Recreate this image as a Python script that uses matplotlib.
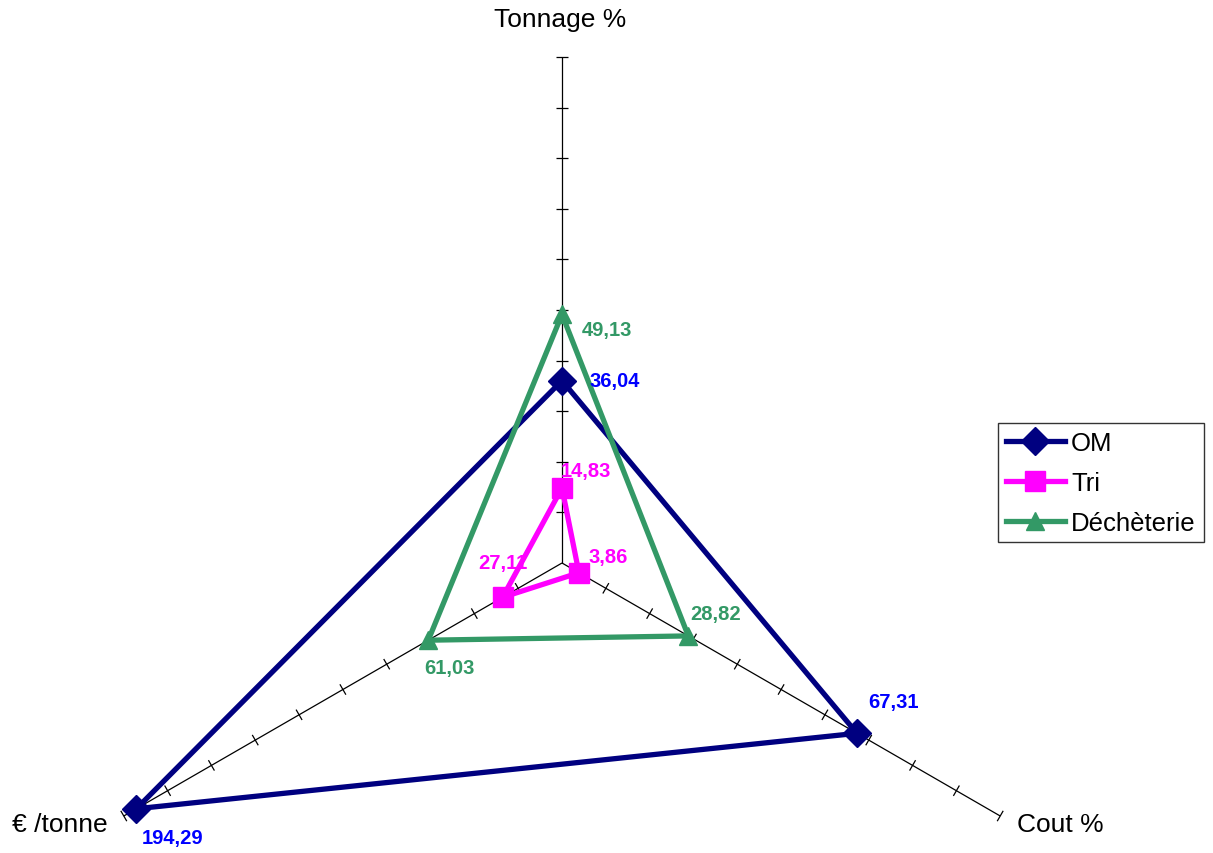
import matplotlib
matplotlib.use('Agg')
import matplotlib.pyplot as plt
import numpy as np
from matplotlib.collections import LineCollection

plt.rcParams['font.family'] = ['Liberation Sans', 'DejaVu Sans']

# ── data ────────────────────────────────────────────────────────────────
categories = ['Tonnage %', 'Cout %', '€ /tonne']
axis_scale = [1.0, 1.0, 0.5]          # € /tonne axis plotted at half scale
om_vals    = [36.04, 67.31, 194.29]
tri_vals   = [14.83, 3.86, 27.11]
dech_vals  = [49.13, 28.82, 61.03]
series_names = ['OM', 'Tri', 'Déchèterie']
r_max, r_step = 100, 10

# ── styling ─────────────────────────────────────────────────────────────
angles = np.radians([90, -30, 210])
colors = ['#000080', '#FF00FF', '#339966']
label_colors = ['#0000FF', '#FF00FF', '#339966']
markers = ['D', 's', '^']
msizes = [14, 15, 13]
# label offsets in pixels (dx right, dy down), alignment
label_offsets = [
    [(27, 0, 'left'), (11, -32, 'left'), (5, 29, 'left')],
    [(-1, -17, 'left'), (10, -16, 'left'), (0, -35, 'center')],
    [(20, 15, 'left'), (2, -22, 'left'), (21, 27, 'center')],
]

W, H = 1213, 854
cx, cy = 562, 564
ppu = 5.06

fig = plt.figure(figsize=(W / 100, H / 100), dpi=100)
ax = fig.add_axes([0, 0, 1, 1])
ax.set_xlim(-cx / ppu, (W - cx) / ppu)
ax.set_ylim(-(H - cy) / ppu, cy / ppu)
ax.axis('off')

# axes lines and cross ticks
segs = []
half = 6 / ppu
for a in angles:
    ux, uy = np.cos(a), np.sin(a)
    segs.append([(0, 0), (r_max * ux, r_max * uy)])
    for r in range(r_step, r_max + 1, r_step):
        px, py = r * ux, r * uy
        segs.append([(px - half * uy, py + half * ux), (px + half * uy, py - half * ux)])
ax.add_collection(LineCollection(segs, colors='black', linewidths=0.9, zorder=1))

# series
for i, vals in enumerate([om_vals, tri_vals, dech_vals]):
    r = np.array(vals) * np.array(axis_scale)
    x = r * np.cos(angles)
    y = r * np.sin(angles)
    xs = np.append(x, x[0])
    ys = np.append(y, y[0])
    ax.plot(xs, ys, color=colors[i], lw=3.8, marker=markers[i], ms=msizes[i],
            markevery=[0, 1, 2], solid_joinstyle='miter', label=series_names[i], zorder=2 + i)
    for j, v in enumerate(vals):
        dx, dy, ha = label_offsets[i][j]
        ax.annotate(f'{v:.2f}'.replace('.', ','), (x[j], y[j]), xytext=(dx, -dy),
                    textcoords='offset pixels', ha=ha, va='center',
                    fontsize=14.5, fontweight='bold', color=label_colors[i], zorder=10)

# category labels
fig.text(560 / W, 1 - 20 / H, categories[0], ha='center', va='center', fontsize=19)
fig.text(1017 / W, 1 - 825 / H, categories[1], ha='left', va='center', fontsize=19)
fig.text(12 / W, 1 - 825 / H, categories[2], ha='left', va='center', fontsize=19)

leg = ax.legend(loc='upper left', bbox_to_anchor=(998 / W, 1 - 424 / H),
                bbox_transform=fig.transFigure, fontsize=18.5, frameon=True,
                fancybox=False, edgecolor='black', handlelength=2.3,
                handletextpad=0.25, labelspacing=0.62, borderpad=0.3,
                borderaxespad=0)
leg.get_frame().set_linewidth(1.0)

fig.savefig('out.png', dpi=100)
